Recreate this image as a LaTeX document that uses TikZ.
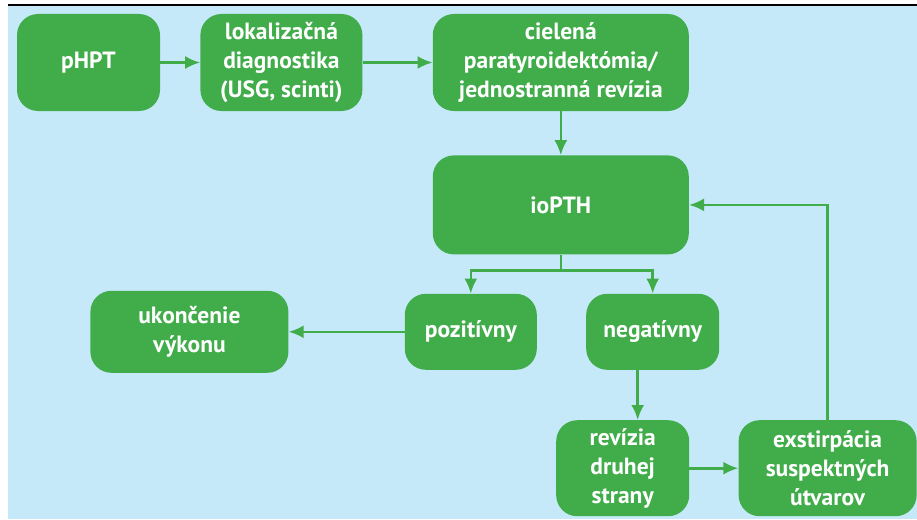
\documentclass[tikz,border=0pt]{standalone}
\usepackage{fontspec}
\setmainfont{PT Sans}
\usepackage{xcolor}
\usepackage{tikz}
\usetikzlibrary{arrows.meta,positioning}
\definecolor{flowgreen}{HTML}{41AD4A}
\definecolor{paleblue}{HTML}{C6E9F9}

\begin{document}
\begin{tikzpicture}[x=1pt,y=1pt,>={Latex[length=15pt,width=13pt]},
    box/.style={fill=flowgreen,rounded corners=21pt,text=white,align=center,
      font=\bfseries\fontsize{23.5}{29}\selectfont,inner sep=0pt},
    link/.style={->,draw=flowgreen,line width=2.6pt}]
  \useasboundingbox (0,0) rectangle (917,-519);
  \fill[paleblue] (8,-6) rectangle (917,-519);
  \draw[line width=2.2pt] (8,-5) -- (917,-5);

  \node[box,minimum width=143pt,minimum height=97pt] (phpt) at (88.5,-62.5) {pHPT};
  \node[box,right=40pt of phpt,minimum width=162pt,minimum height=97pt] (lokal) {lokalizačná\\diagnostika\\(USG, scinti)};
  \node[box,right=70pt of lokal,minimum width=256pt,minimum height=97pt] (ciel) {cielená\\paratyroidektómia/\\jednostranná revízia};
  \node[box,below=44pt of ciel,minimum width=256pt,minimum height=99pt] (iopth) {ioPTH};
  \node[box,below=39pt of iopth,xshift=-90pt,minimum width=132pt,minimum height=76pt] (poz) {pozitívny};
  \node[box,right=49pt of poz,minimum width=133pt,minimum height=76pt] (neg) {negatívny};
  \node[box,left=116pt of poz,minimum width=198pt,minimum height=82pt] (ukon) {ukončenie\\výkonu};
  \node[box,below=50pt of neg,xshift=-30pt,minimum width=133pt,minimum height=96pt] (rev) {revízia\\druhej\\strany};
  \node[box,right=49pt of rev,minimum width=178pt,minimum height=96pt] (exst) {exstirpácia\\suspektných\\útvarov};

  \draw[link] (phpt) -- (lokal);
  \draw[link] (lokal) -- (ciel);
  \draw[link] (ciel) -- (iopth);
  \coordinate[below=16pt of iopth.south] (split);
  \draw[link,-] (iopth.south) -- (split);
  \draw[link] (split) -| (poz.north);
  \draw[link] (split) -| (neg.north);
  \draw[link] (poz) -- (ukon);
  \draw[link] ([xshift=-15pt]neg.south) -- ([xshift=-15pt]neg.south |- rev.north);
  \draw[link] (rev) -- (exst);
  \draw[link] (exst.north) |- (iopth.east);
\end{tikzpicture}
\end{document}
